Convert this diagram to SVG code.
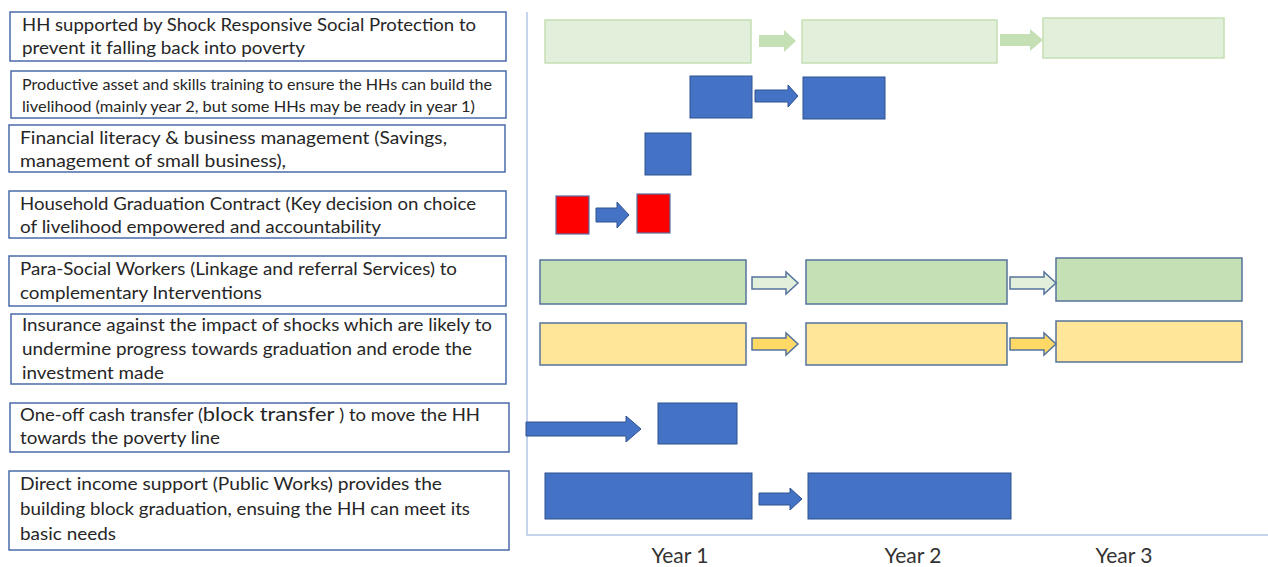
<svg xmlns="http://www.w3.org/2000/svg" width="1268" height="567" viewBox="0 0 1268 567">
<style>
.lbl{fill:#fff;stroke:#4a6bab;stroke-width:1.5}
.t{font-family:Lato,"Liberation Sans",sans-serif;font-size:17px;fill:#262626}
.ts{font-size:14.5px}
.yr{font-family:Lato,"Liberation Sans",sans-serif;font-size:21px;fill:#333;text-anchor:middle}
.lg{fill:#e2efda;stroke:#c5e0b4;stroke-width:1.5}
.lga{fill:#c5e0b4}
.bl{fill:#4472c4;stroke:#2f528f;stroke-width:1}
.rd{fill:#ff0000;stroke:#5a6fa0;stroke-width:1.2}
.gr{fill:#c5e0b4;stroke:#55739c;stroke-width:1.5}
.gra{fill:#e2efda;stroke:#55739c;stroke-width:1.5}
.ye{fill:#ffe699;stroke:#55739c;stroke-width:1.5}
.yea{fill:#ffd966;stroke:#55739c;stroke-width:1.5}
.ax{stroke:#b4c7e7;stroke-width:1.5;fill:none}
</style>
<rect width="1268" height="567" fill="#fff"/>
<g id="axis">
<path class="ax" d="M527 12 V535 H1268"/>
<text class="yr" x="680" y="563">Year 1</text>
<text class="yr" x="913" y="563">Year 2</text>
<text class="yr" x="1124" y="563">Year 3</text>
</g>
<g id="label1"><rect class="lbl" x="10" y="12" width="496" height="49"/>
<text class="t" x="22" y="31" textLength="454" lengthAdjust="spacingAndGlyphs">HH supported by Shock Responsive Social Protection to</text>
<text class="t" x="22" y="54" textLength="283" lengthAdjust="spacingAndGlyphs">prevent it falling back into poverty</text></g>
<g id="label2"><rect class="lbl" x="11" y="71" width="495" height="47"/>
<text class="t ts" x="22" y="90" textLength="470" lengthAdjust="spacingAndGlyphs">Productive asset and skills training to ensure the HHs can build the</text>
<text class="t ts" x="22" y="112" textLength="453" lengthAdjust="spacingAndGlyphs">livelihood (mainly year 2, but some HHs may be ready in year 1)</text></g>
<g id="label3"><rect class="lbl" x="9" y="125" width="496" height="47"/>
<text class="t" x="20" y="144" textLength="427" lengthAdjust="spacingAndGlyphs">Financial literacy &amp; business management  (Savings,</text>
<text class="t" x="20" y="167" textLength="266" lengthAdjust="spacingAndGlyphs">management of small business),</text></g>
<g id="label4"><rect class="lbl" x="9" y="191" width="497" height="47"/>
<text class="t" x="20" y="210" textLength="456" lengthAdjust="spacingAndGlyphs">Household Graduation  Contract (Key decision on choice</text>
<text class="t" x="20" y="233" textLength="361" lengthAdjust="spacingAndGlyphs">of livelihood empowered and accountability</text></g>
<g id="label5"><rect class="lbl" x="9" y="256" width="497" height="50"/>
<text class="t" x="20" y="275" textLength="437" lengthAdjust="spacingAndGlyphs">Para-Social  Workers (Linkage and referral Services) to</text>
<text class="t" x="20" y="299" textLength="242" lengthAdjust="spacingAndGlyphs">complementary Interventions</text></g>
<g id="label6"><rect class="lbl" x="11" y="314" width="495" height="70"/>
<text class="t" x="22" y="331" textLength="470" lengthAdjust="spacingAndGlyphs">Insurance  against the impact of shocks which are likely to</text>
<text class="t" x="22" y="355" textLength="450" lengthAdjust="spacingAndGlyphs">undermine progress towards graduation  and erode the</text>
<text class="t" x="22" y="379" textLength="142" lengthAdjust="spacingAndGlyphs">investment made</text></g>
<g id="label7"><rect class="lbl" x="10" y="403" width="499" height="49"/>
<text class="t" x="20" y="421" textLength="460" lengthAdjust="spacingAndGlyphs">One-off cash transfer (<tspan font-size="20">block transfer</tspan> ) to move the HH</text>
<text class="t" x="20" y="444" textLength="200" lengthAdjust="spacingAndGlyphs">towards the poverty line</text></g>
<g id="label8"><rect class="lbl" x="9" y="471" width="500" height="79"/>
<text class="t" x="20" y="490" textLength="422" lengthAdjust="spacingAndGlyphs">Direct income support  (Public Works) provides the</text>
<text class="t" x="20" y="515" textLength="450" lengthAdjust="spacingAndGlyphs">building block graduation,  ensuing the HH can meet its</text>
<text class="t" x="20" y="540" textLength="96" lengthAdjust="spacingAndGlyphs">basic needs</text></g>
<g id="row1">
<rect class="lg" x="545" y="20" width="206" height="43"/>
<rect class="lg" x="802" y="20" width="195" height="43"/>
<rect class="lg" x="1043" y="18" width="181" height="40"/>
</g>
<g id="row2">
<rect class="bl" x="690" y="76" width="62" height="42"/>
<rect class="bl" x="803" y="77" width="82" height="42"/>
</g>
<g id="row3"><rect class="bl" x="645" y="133" width="46" height="42"/></g>
<g id="row4">
<rect class="rd" x="556" y="196" width="33" height="38"/>
<rect class="rd" x="637" y="194" width="33" height="39"/>
</g>
<g id="row5">
<rect class="gr" x="540" y="260" width="206" height="44"/>
<rect class="gr" x="806" y="260" width="201" height="44"/>
<rect class="gr" x="1056" y="258" width="186" height="43"/>
</g>
<g id="row6">
<rect class="ye" x="540" y="323" width="206" height="42"/>
<rect class="ye" x="806" y="323" width="201" height="42"/>
<rect class="ye" x="1056" y="321" width="186" height="41"/>
</g>
<g id="row7"><rect class="bl" x="658" y="403" width="79" height="41"/></g>
<g id="row8">
<rect class="bl" x="545" y="473" width="207" height="46"/>
<rect class="bl" x="808" y="473" width="203" height="46"/>
</g>
<g id="connectors">
<polygon class="lga" points="759,35 784,35 784,30 796,41 784,52 784,47 759,47"/>
<polygon class="lga" points="1000,34 1030,34 1030,29 1043,40 1030,51 1030,46 1000,46"/>
<polygon class="bl" points="755,90 788,90 788,85 798,96 788,107 788,102 755,102"/>
<polygon class="bl" points="596,208 617,208 617,202 629,215 617,228 617,222 596,222"/>
<polygon class="gra" points="752,277 786,277 786,272 798,283 786,294 786,289 752,289"/>
<polygon class="gra" points="1010,277 1044,277 1044,272 1056,283 1044,294 1044,289 1010,289"/>
<polygon class="yea" points="752,338 786,338 786,333 798,344 786,355 786,350 752,350"/>
<polygon class="yea" points="1010,338 1044,338 1044,333 1056,344 1044,355 1044,350 1010,350"/>
<polygon class="bl" points="526,422 626,422 626,416 641,429 626,442 626,436 526,436"/>
<polygon class="bl" points="759,493 790,493 790,488 802,499 790,510 790,505 759,505"/>
</g>
</svg>
